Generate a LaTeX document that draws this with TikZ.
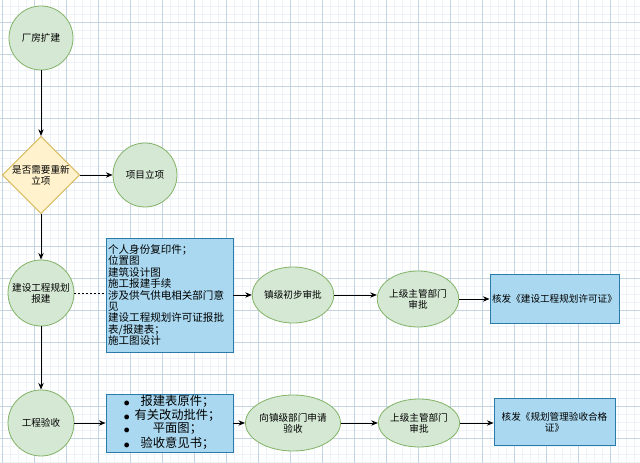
\documentclass[tikz,border=0pt]{standalone}
\usepackage{fontspec}
\setmainfont{Noto Sans CJK SC}
\usetikzlibrary{shapes.geometric,arrows.meta}
\definecolor{gfill}{HTML}{D5E8D4}
\definecolor{gline}{HTML}{82B366}
\definecolor{yfill}{HTML}{FFF2CC}
\definecolor{yline}{HTML}{D6B656}
\definecolor{bfill}{HTML}{A9D8F0}
\definecolor{bline}{HTML}{2B7BAA}
\definecolor{gridminor}{HTML}{EDF3F9}
\definecolor{gridmajor}{HTML}{C4D4E2}
\newcommand{\blt}{\makebox[12pt][l]{\hspace{3pt}\fontsize{4}{5}\selectfont●}}
\tikzset{
  circ/.style={circle,draw=gline,fill=gfill,line width=0.6pt,minimum size=#1*0.75pt,inner sep=0pt,align=center,font=\fontsize{7.2}{8.2}\selectfont},
  ell/.style n args={2}{ellipse,draw=gline,fill=gfill,line width=0.6pt,minimum width=#1*0.75pt,minimum height=#2*0.75pt,inner sep=0pt,align=center,font=\fontsize{7.2}{8.2}\selectfont},
  bbox/.style={rectangle,draw=bline,fill=bfill,line width=0.6pt,inner sep=1.5pt},
  dia/.style={diamond,draw=yline,fill=yfill,line width=0.6pt,minimum width=48.75pt,minimum height=48.75pt,inner sep=0pt,align=center,font=\fontsize{7.2}{8.2}\selectfont},
  conn/.style={line width=0.7pt,-{Stealth[length=5pt,width=4pt]}},
  dconn/.style={line width=0.7pt,dash pattern=on 1.5pt off 1.5pt},
}
\begin{document}
\begin{tikzpicture}[x=0.75pt,y=-0.75pt]
\useasboundingbox (0,0) rectangle (640,463);
\fill[white] (0,0) rectangle (640,463);
\foreach \i in {2,10,...,640} \draw[gridminor,line width=0.5pt] (\i,0) -- (\i,463);
\foreach \j in {6,14,...,463} \draw[gridminor,line width=0.5pt] (0,\j) -- (640,\j);
\foreach \i in {2,34,...,640} \draw[gridmajor,line width=0.5pt] (\i,0) -- (\i,463);
\foreach \j in {22,54,...,463} \draw[gridmajor,line width=0.5pt] (0,\j) -- (640,\j);

\node[circ=64] (cf) at (41,38) {厂房扩建};
\node[dia] (d) at (41,175) {是否需要重新\\立项};
\node[circ=64] (xm) at (145,175) {项目立项};
\node[circ=66] (js) at (41,293) {建设工程规划\\报建};
\node[bbox,minimum width=95.25pt,minimum height=85.5pt,text width=92pt,align=left,font=\fontsize{7.9}{8.6}\selectfont] (b1) at (169.5,295)
  {个人身份复印件；\\位置图\\建筑设计图\\施工报建手续\\涉及供气供电相关部门意\\见\\建设工程规划许可证报批\\表/报建表；\\施工图设计};
\node[ell={72}{56}] (zj) at (293,295) {镇级初步审批};
\node[ell={70}{56}] (sj) at (418,299) {上级主管部门\\审批};
\node[bbox,minimum width=96.75pt,minimum height=36.75pt,font=\fontsize{7.2}{8.2}\selectfont] (hf1) at (554.5,298.5) {核发《建设工程规划许可证》};

\node[circ=66] (ys) at (41,423) {工程验收};
\node[bbox,minimum width=95.25pt,minimum height=43.5pt,inner sep=0pt,font=\fontsize{9.2}{9.4}\selectfont] (b2) at (169.5,423)
  {\begin{tabular}{@{}l@{}c@{}}\blt & \makebox[62pt][c]{报建表原件；}\\
  \blt & \makebox[62pt][c]{有关改动批件；}\\
  \blt & \makebox[62pt][c]{平面图；}\\
  \blt & \makebox[62pt][c]{验收意见书；}\end{tabular}};
\node[ell={73}{56}] (xz) at (293,423) {向镇级部门申请\\验收};
\node[ell={64}{48}] (sj2) at (419,423) {上级主管部门\\审批};
\node[bbox,minimum width=90.75pt,minimum height=35pt,align=center,font=\fontsize{7.2}{8.2}\selectfont] (hf2) at (554.5,422) {核发《规划管理验收合格\\证》};

\draw[conn] (cf) -- (d);
\draw[conn] (d) -- (xm);
\draw[conn] (d) -- (js);
\draw[dconn] (js) -- (b1.west |- js);
\draw[conn] (b1.east) -- (zj.west);
\draw[conn] (zj.east) -- (sj.west |- zj.east);
\draw[conn] (sj.east) -- (hf1.west |- sj.east);
\draw[conn] (js) -- (ys);
\draw[conn] (ys) -- (b2);
\draw[conn] (b2) -- (xz);
\draw[conn] (xz) -- (sj2);
\draw[conn] (sj2) -- (hf2.west |- sj2.east);
\end{tikzpicture}
\end{document}
